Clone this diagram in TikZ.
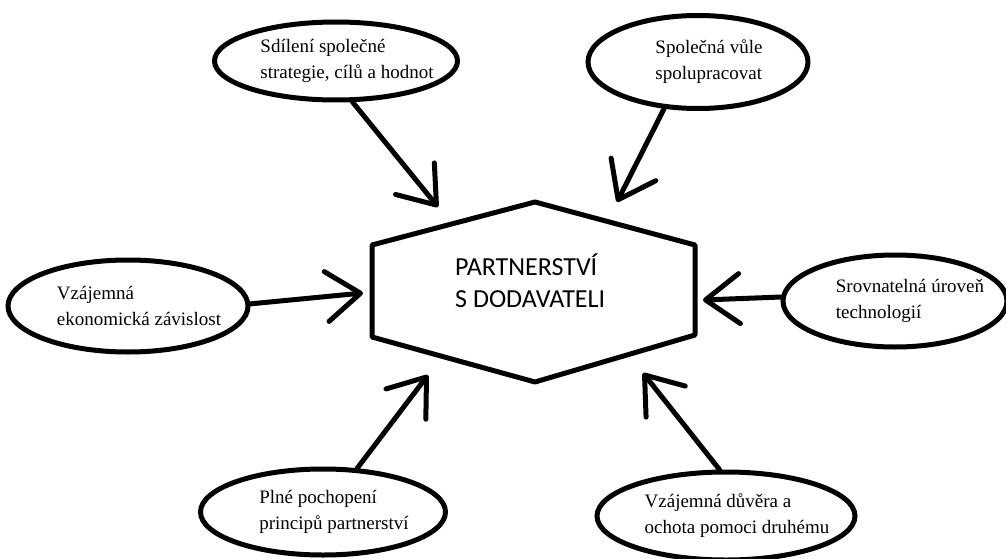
\documentclass[tikz,border=0pt]{standalone}
\usepackage{fontspec}
\setmainfont{Liberation Serif}
\newfontfamily\hexfont{Carlito}
\usetikzlibrary{shapes.geometric,arrows.meta}
\tikzset{
  bubble/.style={ellipse,draw,line width=5pt,inner sep=0pt},
  btext/.style={align=left,inner sep=0pt,xshift=11pt,
    font=\fontsize{19}{26}\selectfont},
  feed/.style={line width=5pt,line cap=round,
    -{Straight Barb[length=34pt,width=50pt,round]}},
  hexline/.style={line width=5pt,line join=round},
}
\begin{document}
\begin{tikzpicture}[x=1pt,y=-1pt]
\useasboundingbox (0,0) rectangle (1006,559);
% central hexagon
\draw[hexline] (535,202) -- (695,245) -- (695,335) -- (535,382) -- (372,337) -- (372,245) -- cycle;
\node[anchor=west,align=left,inner sep=0pt,font=\hexfont\fontsize{26}{32}\selectfont] (hex) at (455,281) {PARTNERSTVÍ\\S DODAVATELI};
% bubbles
\node[bubble,minimum width=243pt,minimum height=78pt,label={[btext]center:Sdílení společné\\strategie, cílů a hodnot}] (e1) at (336,61) {};
\node[bubble,minimum width=220pt,minimum height=93pt,label={[btext]center:Společná vůle\\spolupracovat}] (e2) at (698,62) {};
\node[bubble,minimum width=240pt,minimum height=92pt,label={[btext]center:Vzájemná\\ekonomická závislost}] (e3) at (128,306) {};
\node[bubble,minimum width=224pt,minimum height=92pt,label={[btext,xshift=4pt]center:Srovnatelná úroveň\\technologií}] (e4) at (895,301) {};
\node[bubble,minimum width=245pt,minimum height=86pt,label={[btext]center:Plné pochopení\\principů partnerství}] (e5) at (323,512) {};
\node[bubble,minimum width=258pt,minimum height=88pt,label={[btext]center:Vzájemná důvěra a\\ochota pomoci druhému}] (e6) at (726,516) {};
% arrow tips
\coordinate (t1) at (438,207);
\coordinate (t2) at (617,202);
\coordinate (t3) at (363,293);
\coordinate (t4) at (703,300);
\coordinate (t5) at (428,375);
\coordinate (t6) at (643,373);
% connectors
\draw[feed] (e1.-68) -- (t1);
\draw[feed] (e2.-126) -- (t2);
\draw[feed] (e3.1) -- (t3);
\draw[feed] (e4.178) -- (t4);
\draw[feed] (e5.52) -- (t5);
\draw[feed] (e6.98) -- (t6);
\end{tikzpicture}
\end{document}
